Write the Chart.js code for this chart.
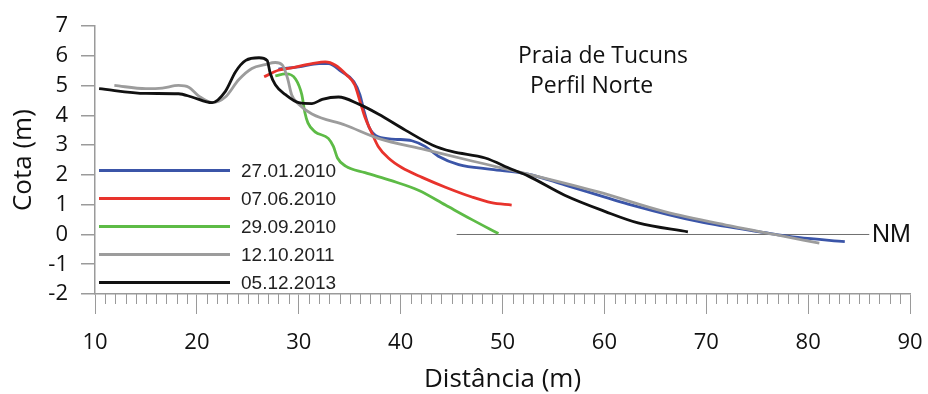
<!DOCTYPE html>
<html lang="pt-br">
<head>
<meta charset="UTF-8">
<title>Praia de Tucuns - Perfil Norte</title>
<script src="https://cdn.jsdelivr.net/npm/chart.js"></script>
<style>
  html, body { margin: 0; padding: 0; background: #fff; }
  .wrap { width: 928px; height: 394px; position: relative; }
</style>
</head>
<body>
<div class="wrap"><canvas id="perfil"></canvas></div>
<script>
// levantamentos (distância em m, cota em m)
const labels = ['27.01.2010', '07.06.2010', '29.09.2010', '12.10.2011', '05.12.2013'];
const colors = ['#3b55a8', '#e8332c', '#5dbb46', '#9c9c9c', '#111111'];

const x2010jan = [28.0, 30.0, 32.0, 32.9, 34.2, 35.4, 36.0, 36.4, 36.9, 37.8, 39.5, 41.1, 42.4, 43.7, 45.7, 48.9, 52.5, 56.1, 62.7, 69.2, 75.8, 79.0, 83.6];
const y2010jan = [5.56, 5.63, 5.74, 5.74, 5.47, 5.14, 4.70, 4.16, 3.61, 3.28, 3.20, 3.15, 2.96, 2.63, 2.35, 2.19, 2.03, 1.67, 0.99, 0.44, 0.06, -0.10, -0.24];

const x2010jun = [26.6, 28.0, 29.0, 31.3, 32.6, 33.6, 34.7, 35.5, 36.0, 36.5, 37.2, 37.8, 38.8, 40.1, 42.1, 44.4, 47.0, 48.9, 50.9];
const y2010jun = [5.30, 5.52, 5.58, 5.74, 5.80, 5.69, 5.36, 5.03, 4.49, 3.94, 3.39, 2.96, 2.57, 2.25, 1.92, 1.59, 1.26, 1.07, 0.99];

const x2010set = [27.7, 28.7, 29.7, 30.3, 30.6, 30.9, 31.6, 32.9, 33.4, 33.8, 34.6, 36.5, 39.1, 41.8, 44.4, 47.0, 49.6];
const y2010set = [5.33, 5.40, 5.22, 4.70, 4.10, 3.75, 3.45, 3.23, 2.96, 2.57, 2.30, 2.08, 1.81, 1.48, 0.99, 0.50, 0.03];

const x2011 = [11.9, 15.0, 16.6, 18.2, 19.2, 20.2, 21.5, 22.8, 24.1, 25.4, 26.7, 27.7, 28.4, 28.9, 29.3, 30.0, 31.3, 34.6, 37.8, 42.4, 47.0, 52.5, 59.4, 65.9, 72.5, 76.7, 81.1];
const y2011 = [5.01, 4.90, 4.92, 5.01, 4.95, 4.65, 4.43, 4.62, 5.20, 5.58, 5.71, 5.78, 5.69, 5.25, 4.70, 4.38, 4.05, 3.67, 3.23, 2.85, 2.47, 2.03, 1.43, 0.77, 0.28, 0.00, -0.29];

const x2013 = [10.4, 15.0, 18.2, 19.5, 21.5, 22.8, 23.8, 24.8, 26.1, 26.9, 27.2, 27.7, 28.7, 30.0, 31.3, 32.3, 33.9, 35.9, 37.8, 40.5, 43.1, 45.0, 48.3, 50.9, 52.5, 56.1, 60.1, 63.3, 68.2];
const y2013 = [4.90, 4.74, 4.73, 4.62, 4.43, 4.81, 5.47, 5.85, 5.94, 5.85, 5.42, 5.03, 4.70, 4.43, 4.40, 4.54, 4.62, 4.38, 4.05, 3.50, 3.01, 2.79, 2.57, 2.19, 1.97, 1.32, 0.77, 0.39, 0.09];

const nmX = [45.5, 86.0];
const nmY = [0, 0];

const seriesX = [x2010jan, x2010jun, x2010set, x2011, x2013];
const seriesY = [y2010jan, y2010jun, y2010set, y2011, y2013];

function pts(xs, ys) { return xs.map((v, i) => ({ x: v, y: ys[i] })); }

const datasets = labels.map((lab, i) => ({
  label: lab,
  data: pts(seriesX[i], seriesY[i]),
  borderColor: colors[i],
  borderWidth: 2.8,
  pointRadius: 0,
  fill: false,
  cubicInterpolationMode: 'monotone',
  order: 5 - i
}));
datasets.push({
  label: 'NM',
  data: pts(nmX, nmY),
  borderColor: '#707070',
  borderWidth: 1,
  pointRadius: 0,
  fill: false,
  order: 10
});

const axisGray = '#9a9a9a';

// textos soltos, marcas menores do eixo x e legenda dentro da área
const extras = {
  id: 'extras',
  afterDraw(chart) {
    const { ctx, scales } = chart;
    const xs = scales.x, ys = scales.y;
    ctx.save();
    // marcas menores
    ctx.strokeStyle = axisGray;
    ctx.lineWidth = 1;
    const yb = ys.getPixelForValue(-2);
    for (let v = 11; v < 90; v++) {
      if (v % 10 === 0) continue;
      const px = Math.round(xs.getPixelForValue(v)) + 0.5;
      ctx.beginPath();
      ctx.moveTo(px, yb);
      ctx.lineTo(px, yb + 10);
      ctx.stroke();
    }
    // legenda
    ctx.font = '19px "Liberation Sans", Arial, sans-serif';
    ctx.textBaseline = 'middle';
    ctx.textAlign = 'left';
    const legY = [170.5, 198.5, 226.5, 254.5, 282.5];
    labels.forEach((lab, i) => {
      ctx.strokeStyle = colors[i];
      ctx.lineWidth = 3;
      ctx.beginPath();
      ctx.moveTo(99, legY[i]);
      ctx.lineTo(230, legY[i]);
      ctx.stroke();
      ctx.fillStyle = '#222';
      ctx.fillText(lab, 241, legY[i] + 1);
    });
    // NM
    ctx.font = '25px "Liberation Sans", Arial, sans-serif';
    ctx.fillStyle = '#111';
    ctx.fillText('NM', 872, ys.getPixelForValue(0) + 1);
    // título
    ctx.font = '23px "Open Sans", sans-serif';
    ctx.textBaseline = 'alphabetic';
    ctx.fillStyle = '#111';
    ctx.fillText('Praia de Tucuns', 518, 63, 170);
    ctx.fillText('Perfil Norte', 530, 93, 124);
    ctx.restore();
  }
};

new Chart(document.getElementById('perfil'), {
  type: 'line',
  data: { datasets },
  plugins: [extras],
  options: {
    responsive: true,
    maintainAspectRatio: false,
    animation: false,
    layout: { padding: { top: 20, right: 18, left: 0, bottom: 0 } },
    plugins: { legend: { display: false }, tooltip: { enabled: false } },
    scales: {
      x: {
        type: 'linear',
        min: 10, max: 90,
        afterFit(s) { s.height = 100; s.paddingLeft = 0; s.paddingRight = 0; },
        ticks: { stepSize: 10, color: '#111', padding: 16, font: { family: 'Open Sans', size: 22 } },
        grid: { drawOnChartArea: false, tickLength: 20, color: axisGray, lineWidth: 1 },
        border: { color: axisGray, width: 1.5 },
        title: { display: true, text: 'Distância (m)', color: '#111', padding: { top: 0, bottom: 1 },
                 font: { family: 'Open Sans', size: 26, lineHeight: 1 } }
      },
      y: {
        min: -2, max: 7,
        afterFit(s) { s.width = 95; },
        ticks: { stepSize: 1, color: '#111', padding: 13, font: { family: 'Open Sans', size: 22 } },
        grid: { drawOnChartArea: false, tickLength: 14, color: axisGray, lineWidth: 1.5 },
        border: { color: axisGray, width: 1.5 },
        title: { display: true, text: 'Cota (m)', color: '#111', padding: { top: 11, bottom: 0 },
                 font: { family: 'Open Sans', size: 26, lineHeight: 1 } }
      }
    }
  }
});
</script>
</body>
</html>
